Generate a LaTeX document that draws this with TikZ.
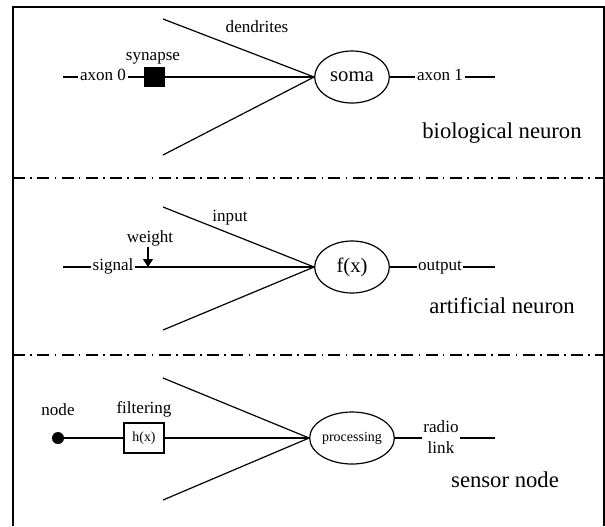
\documentclass[tikz,border=0pt]{standalone}
\usepackage{fontspec}
\setmainfont{Liberation Serif}
\usetikzlibrary{shapes.geometric,arrows.meta}
\begin{document}
\begin{tikzpicture}[x=0.75pt,y=-0.75pt,
  wire/.style={line width=0.9pt},
  lbl/.style={font=\fontsize{12.8}{15.75}\selectfont, inner sep=1pt},
  inl/.style={lbl, text height=1ex, text depth=0pt},
  big/.style={font=\fontsize{17}{19}\selectfont, inner sep=0pt},
  cell/.style={draw, ellipse, line width=0.9pt, minimum width=56pt, minimum height=39pt, inner sep=0pt},
  sepline/.style={line width=0.8pt, dash pattern=on 9pt off 4pt on 1.2pt off 4pt}]
\useasboundingbox (0,0) rectangle (605,526);
% frame
\draw[line width=0.8pt] (13,526) -- (13,7) -- (604,7) -- (604,526);
\draw[sepline] (13,178) -- (604,178);
\draw[sepline] (13,355) -- (604,355);

% ---------- biological neuron ----------
\coordinate (a0s) at (63,77);
\node[inl] (ax0) at (103,77) {axon 0};
\node[fill, minimum width=15.75pt, minimum height=15pt, inner sep=0pt] (syn) at (154.5,77) {};
\node[cell, font=\fontsize{15.5}{17}\selectfont] (soma) at (352,77) {soma};
\coordinate (d1t) at (163,19);
\coordinate (d1b) at (163,155);
\node[inl] (ax1) at (440,77) {axon 1};
\coordinate (a1e) at (495,77);
\node[lbl] (synl) at (153,58) {synapse};
\node[lbl] (dendl) at (257,27) {dendrites};
\node[big] (bio) at (502,133) {biological neuron};
\draw[wire] (a0s) -- (ax0.west);
\draw[wire] (ax0.east) -- (syn.west);
\draw[wire] (syn.east) -- (soma.west);
\draw[wire] (d1t) -- (soma.west);
\draw[wire] (d1b) -- (soma.west);
\draw[wire] (soma.east) -- (ax1.west);
\draw[wire] (ax1.east) -- (a1e);

% ---------- artificial neuron ----------
\coordinate (s0) at (63,267);
\node[inl] (sig) at (113,267) {signal};
\coordinate (wt) at (148,267);
\node[lbl] (wl) at (150,238) {weight};
\node[cell, font=\fontsize{15.5}{17}\selectfont] (fx) at (352,267) {f(x)};
\coordinate (d2t) at (163,207);
\coordinate (d2b) at (163,330);
\node[inl] (outl) at (440,267) {output};
\coordinate (o2e) at (495,267);
\node[lbl] (inpl) at (230,218) {input};
\node[big] (art) at (502,306) {artificial neuron};
\draw[wire] (s0) -- (sig.west);
\draw[wire] (sig.east) -- (fx.west);
\draw[wire,-{Triangle[width=7.5pt,length=6pt]}] (wt |- wl.south) -- (wt);
\draw[wire] (d2t) -- (fx.west);
\draw[wire] (d2b) -- (fx.west);
\draw[wire] (fx.east) -- (outl.west);
\draw[wire] (outl.east) -- (o2e);

% ---------- sensor node ----------
\node[circle, fill, minimum size=9pt, inner sep=0pt] (nd) at (58,438) {};
\node[lbl] (ndl) at (58,410) {node};
\node[draw, line width=0.9pt, minimum width=30pt, minimum height=22.5pt, inner sep=0pt, font=\fontsize{10.4}{12}\selectfont] (hx) at (144,438) {h(x)};
\node[lbl] (filt) at (144,409) {filtering};
\node[cell, font=\fontsize{10.5}{12}\selectfont] (proc) at (352,438) {processing};
\coordinate (d3t) at (163,378);
\coordinate (d3b) at (163,500);
\node[lbl, align=center] (rl) at (441,437) {radio\\link};
\coordinate (r3e) at (495,438);
\node[big] (sens) at (505,480) {sensor node};
\draw[wire] (nd) -- (hx.west);
\draw[wire] (hx.east) -- (proc.west);
\draw[wire] (d3t) -- (proc.west);
\draw[wire] (d3b) -- (proc.west);
\draw[wire] (proc.east) -- (rl.west |- proc.east);
\draw[wire] (rl.east |- proc.east) -- (r3e);
\end{tikzpicture}
\end{document}
